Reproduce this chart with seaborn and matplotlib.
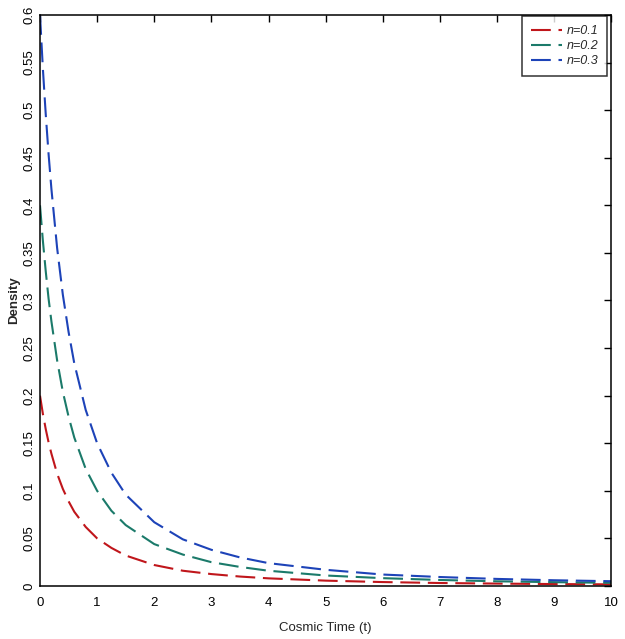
import numpy as np
import pandas as pd
import seaborn as sns
import matplotlib.pyplot as plt
from matplotlib.ticker import FuncFormatter, MultipleLocator

sns.set_style("white")
plt.rcParams['font.family'] = ['Liberation Sans', 'DejaVu Sans']

# values
t = [0, 0.05, 0.1, 0.15, 0.2, 0.3, 0.4, 0.5, 0.6, 0.8, 1, 1.25, 1.5, 2, 2.5, 3, 3.5, 4, 5, 6, 7, 8, 9, 10]
rho_01 = [0.200, 0.181, 0.165, 0.151, 0.139, 0.118, 0.102, 0.089, 0.078, 0.062, 0.050, 0.040, 0.032,
          0.022, 0.016, 0.0125, 0.0099, 0.008, 0.0056, 0.0041, 0.0031, 0.0025, 0.002, 0.0017]
rho_02 = [0.400, 0.363, 0.331, 0.302, 0.278, 0.237, 0.204, 0.178, 0.156, 0.123, 0.100, 0.079, 0.064,
          0.044, 0.033, 0.025, 0.020, 0.016, 0.011, 0.0082, 0.0063, 0.0049, 0.004, 0.0033]
rho_03 = [0.600, 0.544, 0.496, 0.454, 0.417, 0.355, 0.306, 0.267, 0.234, 0.185, 0.150, 0.119, 0.096,
          0.067, 0.049, 0.038, 0.030, 0.024, 0.017, 0.012, 0.0094, 0.0074, 0.006, 0.005]
labels = ['n=0.1', 'n=0.2', 'n=0.3']
colors = ['#c0161b', '#1b7a6a', '#1d43b8']

df = pd.concat([
    pd.DataFrame({'t': t, 'rho': rho_01, 'n': labels[0]}),
    pd.DataFrame({'t': t, 'rho': rho_02, 'n': labels[1]}),
    pd.DataFrame({'t': t, 'rho': rho_03, 'n': labels[2]}),
])

fig, ax = plt.subplots(figsize=(6.25, 6.39), dpi=100)
sns.lineplot(data=df, x='t', y='rho', hue='n', style='n', palette=colors,
             dashes=[(9.5, 3.7)] * 3, linewidth=1.5, ax=ax)

ax.set_xlim(0, 10)
ax.set_ylim(0, 0.6)
ax.xaxis.set_major_locator(MultipleLocator(1))
ax.yaxis.set_major_locator(MultipleLocator(0.05))
ax.yaxis.set_major_formatter(FuncFormatter(lambda v, p: f"{v:.2f}".rstrip('0').rstrip('.')))
ax.tick_params(direction='in', length=5, width=1, top=True, right=True, labelsize=9.5,
               colors='black')
ax.tick_params(axis='x', pad=8)
ax.tick_params(axis='y', pad=3)
for lab in ax.get_yticklabels():
    lab.set_rotation(90)
    lab.set_va('center')
for s in ax.spines.values():
    s.set_linewidth(1.1)
    s.set_color('black')

ax.set_xlabel('Cosmic Time (t)', fontsize=9.5, labelpad=9)
ax.set_ylabel('Density', fontsize=9.5, fontweight='bold', labelpad=3)

leg = ax.legend(title=None, loc='upper right', bbox_to_anchor=(0.993, 0.998), fontsize=9,
                frameon=True, fancybox=False, borderaxespad=0, borderpad=0.7,
                handlelength=2.5, labelspacing=0.25, handletextpad=0.4)
leg.get_frame().set_edgecolor('black')
leg.get_frame().set_linewidth(1.1)
for txt in leg.get_texts():
    txt.set_fontstyle('italic')

plt.subplots_adjust(left=0.064, right=0.978, bottom=0.083, top=0.9765)
fig.savefig('out.png', dpi=100)
